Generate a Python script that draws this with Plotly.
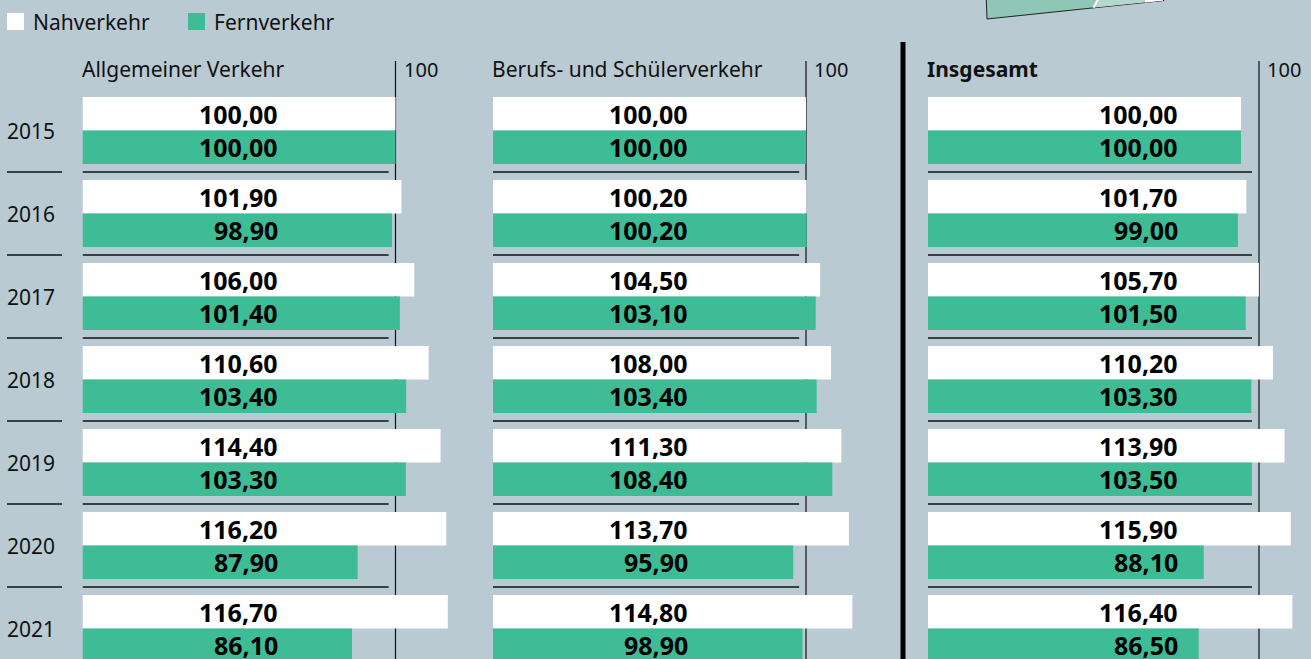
import plotly.graph_objects as go

# ---------------- data ----------------
years = [2015, 2016, 2017, 2018, 2019, 2020, 2021]
series_names = ["Nahverkehr", "Fernverkehr"]
panel_titles = ["Allgemeiner Verkehr", "Berufs- und Schülerverkehr", "Insgesamt"]
reference_label = "100"

allg_nah = [100.0, 101.9, 106.0, 110.6, 114.4, 116.2, 116.7]
allg_fern = [100.0, 98.9, 101.4, 103.4, 103.3, 87.9, 86.1]
beruf_nah = [100.0, 100.2, 104.5, 108.0, 111.3, 113.7, 114.8]
beruf_fern = [100.0, 100.2, 103.1, 103.4, 108.4, 95.9, 98.9]
ges_nah = [100.0, 101.7, 105.7, 110.2, 113.9, 115.9, 116.4]
ges_fern = [100.0, 99.0, 101.5, 103.3, 103.5, 88.1, 86.5]

panels = [
    (allg_nah, allg_fern),
    (beruf_nah, beruf_fern),
    (ges_nah, ges_fern),
]

# ---------------- style ----------------
W, H = 1311, 659
BG = "#b9cad3"
WHITE = "#ffffff"
GREEN = "#3dbc95"
INK = "#111111"
FONT = "Noto Sans"

# pixel geometry of the panels (left edge px, px per unit)
PX_PER_UNIT = 3.13
panel_left_px = [82.5, 493, 928]
X_MAX = 120
label_anchor = [63, 63, 80.5]       # right edge of value labels (data units)
ref_line_x = [100, 100, 105.75]     # position of the vertical "100" line
sep_end = [97.8, 97.8, 103.5]       # right end of row separators

ROW0_PX, PITCH_PX = 130.5, 83.0
BAR_W = 33.5 / PITCH_PX


def px(x, y):
    return x / W, 1 - y / H


fig = go.Figure()

axis_names = ["x", "x2", "x3"]
for k, (nah, fern) in enumerate(panels):
    xa = axis_names[k]
    fig.add_trace(go.Bar(
        x=nah, y=years, orientation="h", name=series_names[0],
        marker=dict(color=WHITE, line=dict(width=0)),
        width=BAR_W, offset=-BAR_W, xaxis=xa, yaxis="y",
        showlegend=False, hoverinfo="x+y",
    ))
    fig.add_trace(go.Bar(
        x=fern, y=years, orientation="h", name=series_names[1],
        marker=dict(color=GREEN, line=dict(width=0)),
        width=BAR_W, offset=0, xaxis=xa, yaxis="y",
        showlegend=False, hoverinfo="x+y",
    ))

layout_axes = {}
for k in range(3):
    key = "xaxis" if k == 0 else f"xaxis{k + 1}"
    left = panel_left_px[k]
    right = left + PX_PER_UNIT * X_MAX
    layout_axes[key] = dict(
        domain=[left / W, right / W], range=[0, X_MAX],
        visible=False, fixedrange=True,
        anchor="y",
    )

y_top = years[0] + (0 - ROW0_PX) / PITCH_PX
y_bot = years[0] + (H - ROW0_PX) / PITCH_PX

shapes = []
annotations = []

for k, (nah, fern) in enumerate(panels):
    xa = axis_names[k]
    # vertical reference line (behind bars)
    shapes.append(dict(
        type="line", xref=xa, yref="paper",
        x0=ref_line_x[k], x1=ref_line_x[k], y0=0, y1=1 - 61 / H,
        line=dict(color=INK, width=1.2), layer="below",
    ))
    annotations.append(dict(
        xref=xa, yref="paper", x=ref_line_x[k], y=1 - 69 / H,
        text=reference_label, showarrow=False, xanchor="left", yanchor="middle",
        xshift=6, font=dict(family=FONT, size=20, color=INK),
    ))
    # panel title
    title = panel_titles[k]
    if k == 2:
        title = f"<b>{title}</b>"
    annotations.append(dict(
        xref=xa, yref="paper", x=0, y=1 - 69 / H, text=title,
        showarrow=False, xanchor="left", yanchor="middle", xshift=-3,
        font=dict(family=FONT, size=21, color=INK),
    ))
    # row separators
    for yr in years[:-1]:
        shapes.append(dict(
            type="line", xref=xa, yref="y", x0=0, x1=sep_end[k],
            y0=yr + 0.5, y1=yr + 0.5, line=dict(color=INK, width=1.3),
        ))
    # value labels
    for yr, a, b in zip(years, nah, fern):
        for val, yy in ((a, yr - BAR_W / 2), (b, yr + BAR_W / 2)):
            annotations.append(dict(
                xref=xa, yref="y", x=label_anchor[k], y=yy,
                text="<b>" + f"{val:.2f}".replace(".", ",") + "</b>",
                showarrow=False, xanchor="right", yanchor="middle",
                font=dict(family=FONT, size=25, color="#000000"),
            ))

# year labels and their separators
for yr in years:
    annotations.append(dict(
        xref="paper", yref="y", x=5 / W, y=yr, text=str(yr),
        showarrow=False, xanchor="left", yanchor="middle",
        font=dict(family=FONT, size=21, color=INK),
    ))
for yr in years[:-1]:
    shapes.append(dict(
        type="line", xref="paper", yref="y", x0=7 / W, x1=62 / W,
        y0=yr + 0.5, y1=yr + 0.5, line=dict(color=INK, width=1.3),
    ))

# thick divider before "Insgesamt"
x_div = 903 / W
shapes.append(dict(
    type="line", xref="paper", yref="paper", x0=x_div, x1=x_div,
    y0=0, y1=1 - 42 / H, line=dict(color="#000000", width=5),
))

# manual legend
legend_items = [(series_names[0], WHITE, 7), (series_names[1], GREEN, 188)]
for name, col, lx in legend_items:
    x0, y0 = px(lx, 13)
    x1, y1 = px(lx + 17, 30)
    shapes.append(dict(type="rect", xref="paper", yref="paper",
                       x0=x0, x1=x1, y0=y1, y1=y0,
                       fillcolor=col, line=dict(width=0)))
    annotations.append(dict(
        xref="paper", yref="paper", x=(lx + 24) / W, y=1 - 22 / H, text=name,
        showarrow=False, xanchor="left", yanchor="middle",
        font=dict(family=FONT, size=21, color=INK),
    ))


# decorative ticket illustration at the top (partially visible)
def path(points):
    s = ""
    for i, (x, y) in enumerate(points):
        xx, yy = px(x, y)
        s += ("M" if i == 0 else "L") + f"{xx:.5f},{yy:.5f} "
    return s + "Z"


shapes.append(dict(type="path", xref="paper", yref="paper",
                   path=path([(986, -10), (987, 19), (1164, 0.5), (1164, -10)]),
                   fillcolor="#90c6b6", line=dict(color="#222222", width=1)))
shapes.append(dict(type="path", xref="paper", yref="paper",
                   path=path([(1095, 7.6), (1163, 0.6), (1163, -5), (1100, -5)]),
                   fillcolor="#b6d8cc", line=dict(width=0)))
shapes.append(dict(type="path", xref="paper", yref="paper",
                   path=path([(1145, 2.4), (1163, 0.6), (1163, -5), (1146, -5)]),
                   fillcolor="#ffffff", line=dict(width=0)))
shapes.append(dict(type="line", xref="paper", yref="paper",
                   x0=px(1093.5, 7.8)[0], y0=px(1093.5, 7.8)[1],
                   x1=px(1098, -1)[0], y1=px(1098, -1)[1],
                   line=dict(color="#ffffff", width=2)))

fig.update_layout(
    width=W, height=H,
    margin=dict(l=0, r=0, t=0, b=0),
    paper_bgcolor=BG, plot_bgcolor="rgba(0,0,0,0)",
    barmode="overlay",
    yaxis=dict(range=[y_bot, y_top], visible=False, fixedrange=True,
               domain=[0, 1]),
    shapes=shapes, annotations=annotations,
    font=dict(family=FONT),
    showlegend=False,
    **layout_axes,
)

fig.write_html(
    "out.html",
    config={"displayModeBar": False},
    post_script="document.body.style.margin='0px';document.body.style.overflow='hidden';",
)
